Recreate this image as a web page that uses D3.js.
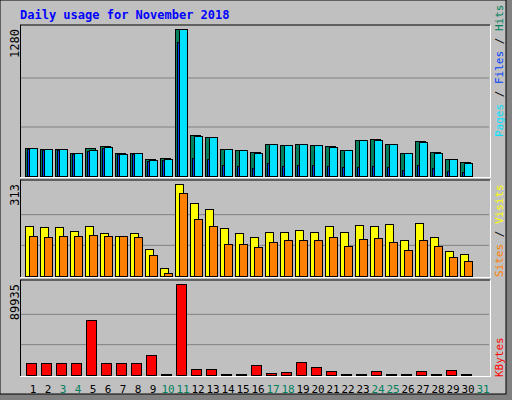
<!DOCTYPE html>
<html><head><meta charset="utf-8">
<script src="https://cdnjs.cloudflare.com/ajax/libs/d3/7.8.5/d3.min.js"></script>
<style>body{margin:0;background:#fff}text{font-family:"DejaVu Sans Mono",monospace}</style>
</head><body>
<div id="chart"></div>
<script>
var days = d3.range(1, 32);
var weekend = [3, 4, 10, 11, 17, 18, 24, 25, 31];
var hits = [241,232,232,198,241,261,198,198,145,154,1280,354,340,232,224,206,276,267,276,267,261,224,311,320,276,198,302,206,145,119];
var files = [241,232,232,198,224,252,192,198,137,145,1280,346,340,232,224,197,276,267,276,267,252,224,311,311,276,198,293,197,145,111];
var pages = [236,228,228,194,220,248,188,194,133,141,1164,154,145,96,87,67,111,87,96,96,87,78,78,87,78,52,96,67,44,35];
var visits = [170,167,167,153,170,146,136,146,92,27,313,248,228,163,146,133,150,150,156,150,170,150,174,170,177,122,180,133,85,75];
var sites = [136,133,136,136,139,136,136,133,71,10,282,194,170,109,109,99,116,122,122,122,133,102,126,129,116,88,122,102,65,51];
var kbytes = [11860,11860,11860,11860,54355,11860,11860,11860,19766,988,89935,5930,5930,988,988,9883,1977,2965,12848,7906,3953,988,988,3953,988,988,3953,988,4941,988];

var svg = d3.select("#chart").append("svg").attr("width", 512).attr("height", 400);

// frame + shadow
svg.append("rect").attr("width", 512).attr("height", 400).attr("fill", "#808080");
svg.append("rect").attr("x", 0).attr("y", 0).attr("width", 506).attr("height", 394).attr("fill", "#c0c0c0").attr("stroke", "#000");

svg.append("text").attr("x", 20).attr("y", 19).attr("fill", "#0000ff")
  .attr("font-size", 12).attr("font-weight", "bold").text("Daily usage for November 2018");

var x = d3.scaleLinear().domain([1, 31]).range([25, 475]);

var panels = [
  { top: 25, bottom: 177, max: 1280 },
  { top: 180, bottom: 277, max: 313 },
  { top: 280, bottom: 376, max: 89935 }
];
var yTop = d3.scaleLinear().domain([0, 1280]).range([176, 29]);
var yMid = d3.scaleLinear().domain([0, 313]).range([276, 184]);
var yBot = d3.scaleLinear().domain([0, 89935]).range([375, 284]);
var ys = [yTop, yMid, yBot];

panels.forEach(function (p, i) {
  var y = ys[i];
  [1 / 3, 2 / 3].forEach(function (f) {
    svg.append("line").attr("x1", 21).attr("x2", 489)
      .attr("y1", y(p.max * f)).attr("y2", y(p.max * f)).attr("stroke", "#808080");
  });
  svg.append("line").attr("x1", 20).attr("x2", 490).attr("y1", p.top).attr("y2", p.top).attr("stroke", "#000");
  svg.append("line").attr("x1", 20.5).attr("x2", 20.5).attr("y1", p.top).attr("y2", p.bottom).attr("stroke", "#000");
  svg.append("line").attr("x1", 490.5).attr("x2", 490.5).attr("y1", p.top).attr("y2", p.bottom + 1).attr("stroke", "#fff");
  svg.append("line").attr("x1", 20).attr("x2", 491).attr("y1", p.bottom + 0.5).attr("y2", p.bottom + 0.5).attr("stroke", "#fff");
  svg.append("text").attr("transform", "translate(19," + y(p.max) + ") rotate(-90)")
    .attr("text-anchor", "end").attr("font-size", 12).attr("fill", "#000").text(p.max);
});

function bars(data, y, dx, w, color) {
  svg.append("g").selectAll("rect").data(data).join("rect")
    .attr("x", function (d, i) { return x(i + 1) + dx + 0.5; })
    .attr("y", function (d) { return Math.round(y(d)) + 0.5; })
    .attr("width", w)
    .attr("height", function (d) { return Math.max(1, Math.round(y(0) - y(d))); })
    .attr("fill", color).attr("stroke", "#000");
}
bars(hits, yTop, 0, 10, "#00805c");
bars(pages, yTop, 2, 3, "#0040ff");
bars(files, yTop, 4, 8, "#00e0ff");
bars(visits, yMid, 0, 8, "#ffff00");
bars(sites, yMid, 4, 8, "#ff8000");
bars(kbytes, yBot, 1, 10, "#ff0000");

svg.append("g").selectAll("text").data(days).join("text")
  .attr("x", function (d) { return x(d) + 8; }).attr("y", 393)
  .attr("text-anchor", "middle").attr("font-size", 11)
  .attr("fill", function (d) { return weekend.indexOf(d) >= 0 ? "#00805c" : "#000"; })
  .text(function (d) { return d; });

function sideLabel(yPos, parts) {
  var t = svg.append("text").attr("transform", "translate(503," + yPos + ") rotate(-90)")
    .attr("font-size", 11);
  parts.forEach(function (p) { t.append("tspan").attr("fill", p[1]).text(p[0]); });
}
sideLabel(137, [["Pages", "#00e0ff"], [" / ", "#000"], ["Files", "#0040ff"], [" / ", "#000"], ["Hits", "#00805c"]]);
sideLabel(277, [["Sites", "#ff8000"], [" / ", "#000"], ["Visits", "#ffff00"]]);
sideLabel(377, [["KBytes", "#ff0000"]]);
</script>
</body></html>
